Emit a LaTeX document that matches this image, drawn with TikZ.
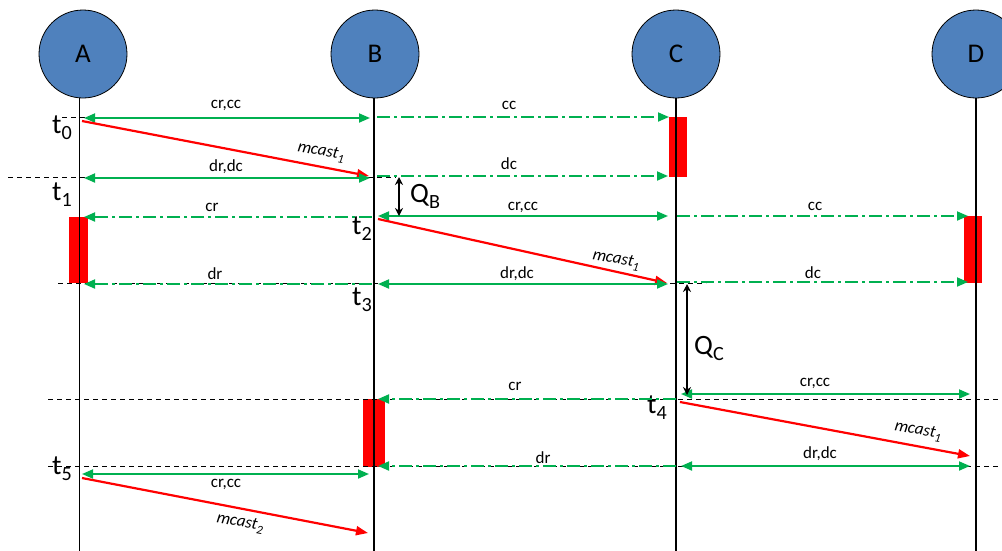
\documentclass[tikz,border=0pt]{standalone}
\usepackage{fontspec}
\setmainfont{Carlito}
\usetikzlibrary{arrows.meta}
\definecolor{msggreen}{RGB}{0,176,80}
\definecolor{nodeblue}{RGB}{79,129,189}
\newcommand\lowsub[1]{\raisebox{-0.45ex}{\scalebox{0.72}{#1}}}
\begin{document}
\begin{tikzpicture}[x=1pt,y=-1pt,
  proc/.style={circle,draw=black,line width=0.8pt,fill=nodeblue,minimum size=88pt,inner sep=0pt,font=\fontsize{27}{27}\selectfont},
  life/.style={line width=1.5pt},
  busy/.style={fill=red,draw=none,inner sep=0pt},
  guide/.style={dashed,dash pattern=on 5pt off 4pt,line width=0.9pt},
  both/.style={msggreen,line width=1.8pt,{Triangle[length=11pt,width=9pt]}-{Triangle[length=11pt,width=9pt]}},
  one/.style={msggreen,line width=1.8pt,dash pattern=on 13pt off 4pt on 3pt off 4pt,-{Triangle[length=11pt,width=9pt]}},
  mcast/.style={red,line width=2.2pt,-{Triangle[length=12pt,width=9pt]}},
  qarrow/.style={black,line width=1.4pt,{Stealth[length=8pt,width=8pt]}-{Stealth[length=8pt,width=8pt]}},
  lbl/.style={font=\fontsize{17}{17}\selectfont,inner sep=0pt},
  mlbl/.style={font=\fontsize{17}{17}\selectfont\itshape,inner sep=0pt},
  tlbl/.style={font=\fontsize{28}{28}\selectfont,inner sep=0pt},
]
\useasboundingbox (0,0) rectangle (1002,550);
% processes
\node[proc] (A) at (83,54) {A};
\node[proc] (B) at (375,54) {B};
\node[proc] (C) at (676,54) {C};
\node[proc] (D) at (976,54) {D};
% lifeline ends
\coordinate (Atop) at (79,98); \coordinate (Abot) at (79,552);
\coordinate (Btop) at (374,98); \coordinate (Bbot) at (374,552);
\coordinate (Ctop) at (676,98); \coordinate (Cbot) at (676,552);
\coordinate (Dtop) at (976,98); \coordinate (Dbot) at (976,552);
% busy boxes
\node[busy,minimum width=18pt,minimum height=60pt] (boxC) at (678,147) {};
\node[busy,minimum width=19pt,minimum height=66pt] (boxA) at (78.5,250) {};
\node[busy,minimum width=18pt,minimum height=67pt] (boxD) at (972.5,249.5) {};
\node[busy,minimum width=22pt,minimum height=68pt] (boxB) at (374,433) {};
% lifelines
\draw[line width=1pt] (Atop) -- (Abot);
\draw[life] (Btop) -- (Bbot);
\draw[life] (Ctop) -- (Cbot);
\draw[life] (Dtop) -- (Dbot);
% dashed time guides
\coordinate (g0a) at (62,117); \coordinate (g0b) at (137,117);
\coordinate (g1a) at (8,177); \coordinate (g1b) at (396,177);
\coordinate (g3a) at (58,283); \coordinate (g3b) at (706,283);
\coordinate (g4a) at (48,399); \coordinate (g4b) at (1002,399);
\coordinate (g5a) at (48,466); \coordinate (g5b) at (1002,466);
\draw[guide] (g0a) -- (g0b);
\draw[guide] (g1a) -- (g1b);
\draw[guide] (g3a) -- (g3b);
\draw[guide] (g4a) -- (g4b);
\draw[guide] (g5a) -- (g5b);
% time labels
\node[tlbl] (t0) at (62,128) {t\lowsub{0}};
\node[tlbl] (t1) at (62,195) {t\lowsub{1}};
\node[tlbl] (t2) at (362,229) {t\lowsub{2}};
\node[tlbl] (t3) at (362,300) {t\lowsub{3}};
\node[tlbl] (t4) at (657,408) {t\lowsub{4}};
\node[tlbl] (t5) at (62,469) {t\lowsub{5}};
% message end points
\coordinate (a0) at (84,118); \coordinate (b0) at (370,118);
\coordinate (b0r) at (377,117); \coordinate (c0) at (669,117);
\coordinate (m1s) at (82,121); \coordinate (m1e) at (369,176);
\coordinate (a1) at (84,178); \coordinate (b1) at (370,178);
\coordinate (b1r) at (377,176); \coordinate (c1) at (668,176);
\coordinate (b2l) at (372,217); \coordinate (a2) at (84,217);
\coordinate (b2) at (378,216); \coordinate (c2) at (668,216);
\coordinate (c2r) at (677,216); \coordinate (d2) at (968,216);
\coordinate (m2s) at (378,219); \coordinate (m2e) at (667,283);
\coordinate (b3l) at (372,284); \coordinate (a3) at (84,284);
\coordinate (b3) at (378,284); \coordinate (c3) at (668,284);
\coordinate (c3r) at (677,282); \coordinate (d3) at (968,282);
\coordinate (c4l) at (676,399); \coordinate (b4) at (378,399);
\coordinate (c4) at (681,394); \coordinate (d4) at (970,394);
\coordinate (m3s) at (680,402); \coordinate (m3e) at (970,456);
\coordinate (c5l) at (676,466); \coordinate (b5) at (378,466);
\coordinate (c5) at (681,466); \coordinate (d5) at (970,466);
\coordinate (a5) at (82,474); \coordinate (b5l) at (369,474);
\coordinate (m4s) at (82,478); \coordinate (m4e) at (368,533);
\coordinate (qb1) at (399,177); \coordinate (qb2) at (399,216);
\coordinate (qc1) at (687,284); \coordinate (qc2) at (687,395);
% messages
\draw[both] (a0) -- (b0);
\draw[one] (b0r) -- (c0);
\draw[mcast] (m1s) -- (m1e);
\draw[both] (a1) -- (b1);
\draw[one] (b1r) -- (c1);
\draw[one] (b2l) -- (a2);
\draw[both] (b2) -- (c2);
\draw[one] (c2r) -- (d2);
\draw[mcast] (m2s) -- (m2e);
\draw[one] (b3l) -- (a3);
\draw[both] (b3) -- (c3);
\draw[one] (c3r) -- (d3);
\draw[one] (c4l) -- (b4);
\draw[both] (c4) -- (d4);
\draw[mcast] (m3s) -- (m3e);
\draw[one] (c5l) -- (b5);
\draw[both] (c5) -- (d5);
\draw[both] (a5) -- (b5l);
\draw[mcast] (m4s) -- (m4e);
\draw[qarrow] (qb1) -- (qb2);
\draw[qarrow] (qc1) -- (qc2);
% message labels
\node[lbl] (l0a) at (226,105) {cr,cc};
\node[lbl] (l0b) at (509,105) {cc};
\node[mlbl,rotate=-10.8] (l0m) at (321,152) {mcast\lowsub{1}};
\node[lbl] (l1a) at (226,167) {dr,dc};
\node[lbl] (l1b) at (509,164) {dc};
\node[lbl] (l2a) at (212,207) {cr};
\node[lbl] (l2b) at (523,207) {cr,cc};
\node[lbl] (l2c) at (815,206) {cc};
\node[mlbl,rotate=-10.5] (l2m) at (616,260) {mcast\lowsub{1}};
\node[lbl] (l3a) at (215,274) {dr};
\node[lbl] (l3b) at (517,274) {dr,dc};
\node[lbl] (l3c) at (813,273) {dc};
\node[lbl] (l4a) at (515,386) {cr};
\node[lbl] (l4b) at (815,383) {cr,cc};
\node[mlbl,rotate=-10.5] (l4m) at (918,431) {mcast\lowsub{1}};
\node[lbl] (l5a) at (543,458) {dr};
\node[lbl] (l5b) at (820,454) {dr,dc};
\node[lbl] (l5c) at (226,484) {cr,cc};
\node[mlbl,rotate=-10.8] (l5m) at (240,523) {mcast\lowsub{2}};
\node[tlbl,anchor=west] (QB) at (410,196) {Q\lowsub{B}};
\node[tlbl,anchor=west] (QC) at (694,348) {Q\lowsub{C}};
\end{tikzpicture}
\end{document}
